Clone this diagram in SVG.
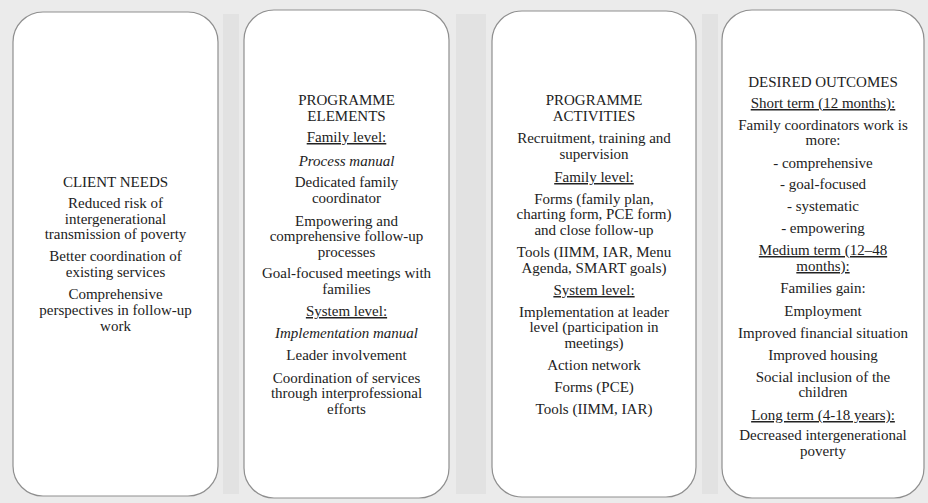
<svg xmlns="http://www.w3.org/2000/svg" width="928" height="503" viewBox="0 0 928 503" font-family="'Liberation Serif', 'DejaVu Serif', serif">
<style>
.bg{fill:#ebebeb}
.band{fill:#e2e2e2}
.box{fill:#ffffff;stroke:#8f8f8f;stroke-width:1.2}
.t{font-size:15px;fill:#222;text-anchor:middle}
.u{text-decoration:underline}
.i{font-style:italic}
</style>
<rect class="bg" x="0" y="0" width="928" height="503"/>
<g id="connectors">
<rect class="band" x="223" y="14" width="16" height="480"/>
<rect class="band" x="456" y="14" width="30" height="480"/>
<rect class="band" x="702" y="14" width="16" height="480"/>
</g>
<g id="client-needs" class="t" font-family="Liberation Serif">
<rect class="box" x="13" y="12" width="205" height="484" rx="30" ry="30"/>
<text x="115.5" y="187">CLIENT NEEDS</text>
<text x="115.5" y="208">Reduced risk of</text>
<text x="115.5" y="223.5">intergenerational</text>
<text x="115.5" y="239">transmission  of poverty</text>
<text x="115.5" y="261">Better coordination of</text>
<text x="115.5" y="277">existing services</text>
<text x="115.5" y="299">Comprehensive</text>
<text x="115.5" y="315">perspectives in follow-up</text>
<text x="115.5" y="331">work</text>
</g>
<g id="programme-elements" class="t" font-family="Liberation Serif">
<rect class="box" x="244" y="10" width="205" height="488" rx="30" ry="30"/>
<text x="346.5" y="105">PROGRAMME</text>
<text x="346.5" y="121">ELEMENTS</text>
<text x="346.5" y="142" class="u">Family level:</text>
<text x="346.5" y="166" class="i">Process manual</text>
<text x="346.5" y="187">Dedicated family</text>
<text x="346.5" y="203">coordinator</text>
<text x="346.5" y="226">Empowering and</text>
<text x="346.5" y="241">comprehensive follow-up</text>
<text x="346.5" y="257">processes</text>
<text x="346.5" y="278">Goal-focused meetings with</text>
<text x="346.5" y="294">families</text>
<text x="346.5" y="316" class="u">System level:</text>
<text x="346.5" y="338" class="i">Implementation manual</text>
<text x="346.5" y="360">Leader involvement</text>
<text x="346.5" y="383">Coordination of services</text>
<text x="346.5" y="398">through interprofessional</text>
<text x="346.5" y="414">efforts</text>
</g>
<g id="programme-activities" class="t" font-family="Liberation Serif">
<rect class="box" x="492" y="11" width="204" height="486" rx="30" ry="30"/>
<text x="594" y="105">PROGRAMME</text>
<text x="594" y="121">ACTIVITIES</text>
<text x="594" y="143">Recruitment, training and</text>
<text x="594" y="159">supervision</text>
<text x="594" y="182" class="u">Family level:</text>
<text x="594" y="204">Forms (family plan,</text>
<text x="594" y="219">charting form, PCE form)</text>
<text x="594" y="235">and close follow-up</text>
<text x="594" y="257">Tools (IIMM, IAR, Menu</text>
<text x="594" y="273">Agenda, SMART goals)</text>
<text x="594" y="295" class="u">System level:</text>
<text x="594" y="317">Implementation at leader</text>
<text x="594" y="332">level (participation in</text>
<text x="594" y="348">meetings)</text>
<text x="594" y="370">Action network</text>
<text x="594" y="392">Forms (PCE)</text>
<text x="594" y="414">Tools (IIMM, IAR)</text>
</g>
<g id="desired-outcomes" class="t" font-family="Liberation Serif">
<rect class="box" x="722" y="10" width="202" height="488" rx="30" ry="30"/>
<text x="823" y="87">DESIRED OUTCOMES</text>
<text x="823" y="108" class="u">Short term (12 months):</text>
<text x="823" y="130">Family coordinators work is</text>
<text x="823" y="145">more:</text>
<text x="823" y="168">- comprehensive</text>
<text x="823" y="189">- goal-focused</text>
<text x="823" y="211">- systematic</text>
<text x="823" y="233">- empowering</text>
<text x="823" y="255" class="u">Medium term (12–48</text>
<text x="823" y="271" class="u">months):</text>
<text x="823" y="293">Families gain:</text>
<text x="823" y="316">Employment</text>
<text x="823" y="338">Improved financial situation</text>
<text x="823" y="360">Improved housing</text>
<text x="823" y="382">Social inclusion of the</text>
<text x="823" y="397">children</text>
<text x="823" y="420" class="u">Long term (4-18 years):</text>
<text x="823" y="440">Decreased intergenerational</text>
<text x="823" y="456">poverty</text>
</g>
</svg>
